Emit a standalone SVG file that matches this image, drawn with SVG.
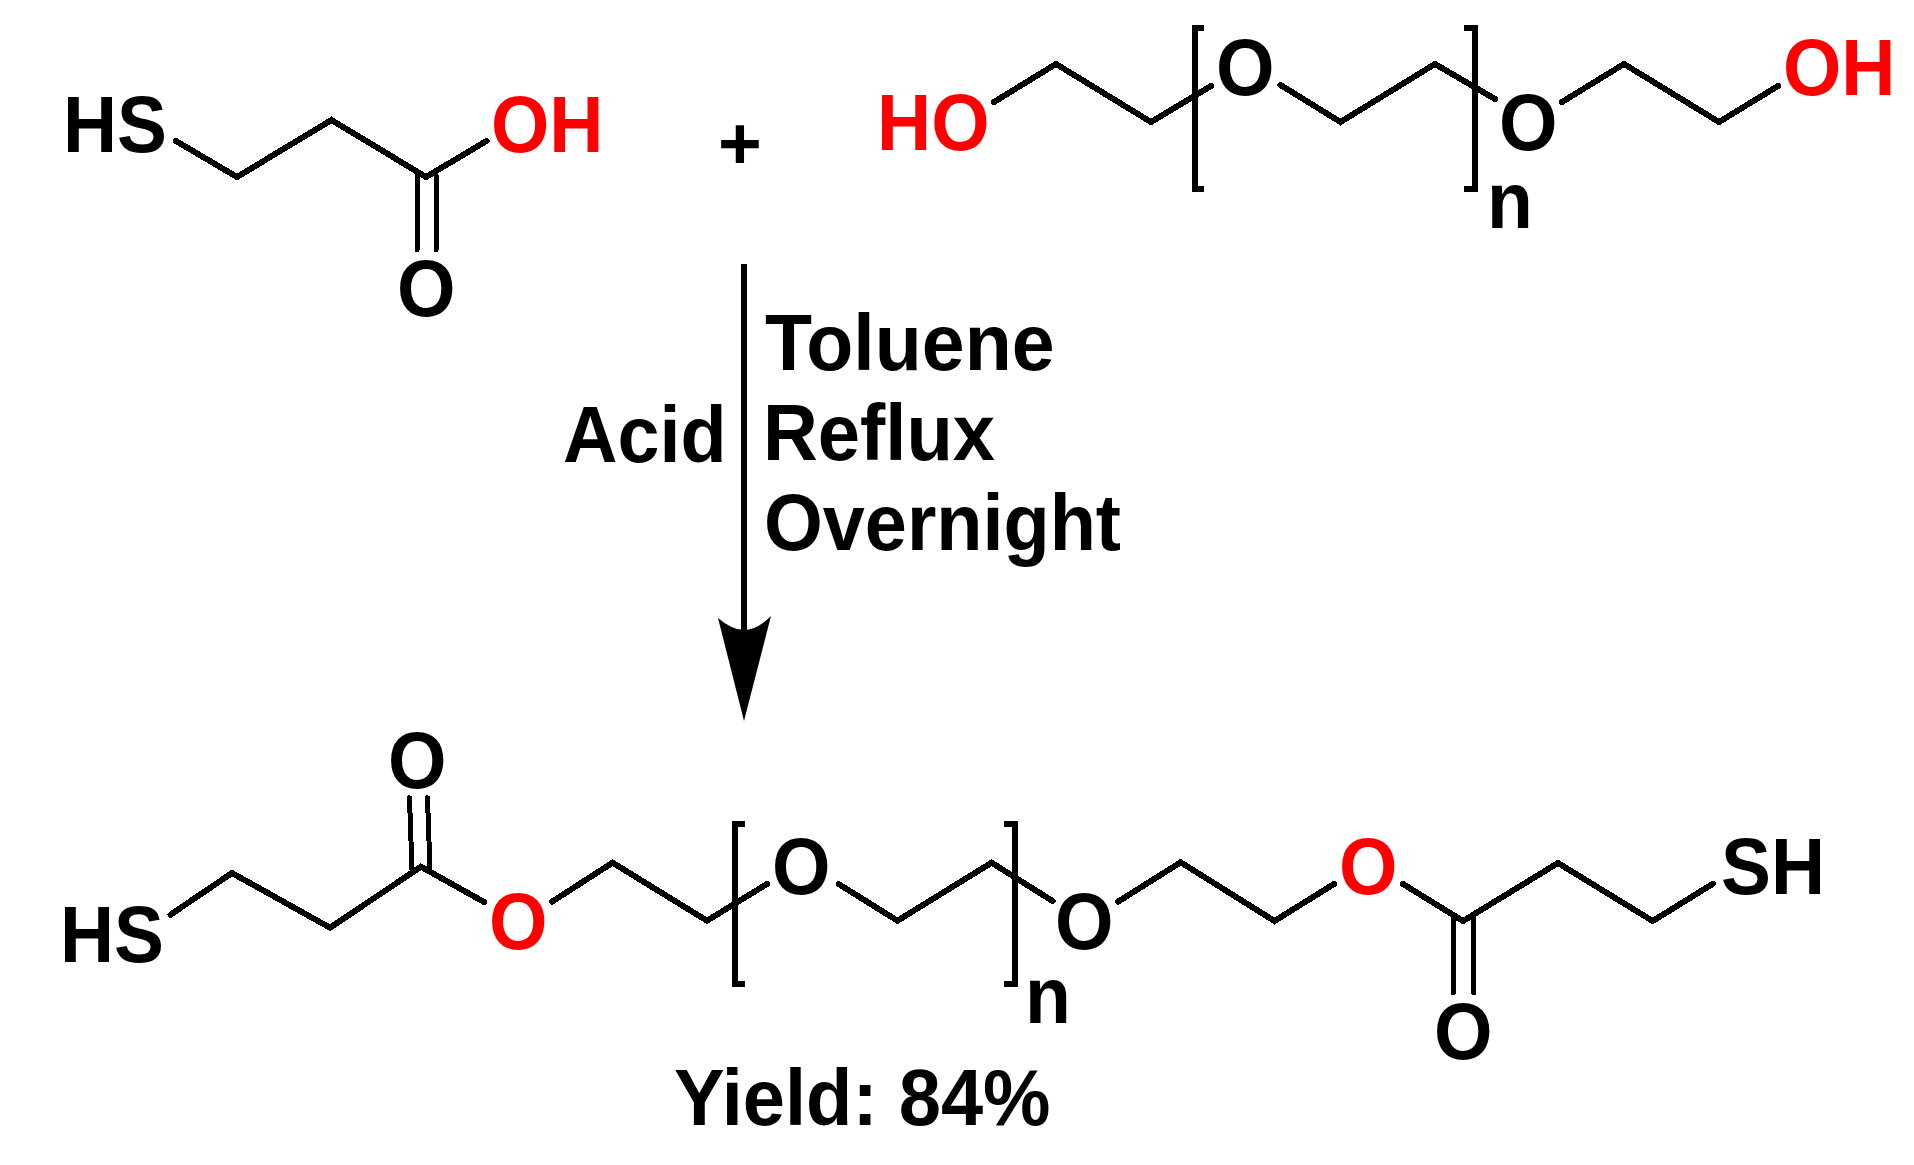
<svg xmlns="http://www.w3.org/2000/svg" width="1914" height="1165" viewBox="0 0 1914 1165">
<defs><style>
text{font-family:"Liberation Sans",Arial,sans-serif;font-weight:700;font-size:79px;fill:#000}
.r{fill:#f00}
.b{fill:none;stroke:#000;stroke-width:6;stroke-linejoin:miter;stroke-linecap:round;shape-rendering:crispEdges}
.d{stroke-width:5}
.k{fill:none;stroke:#000;stroke-width:6;stroke-linecap:butt;shape-rendering:crispEdges}
</style></defs>
<rect width="1914" height="1165" fill="#fff"/>
<g id="connectors">
<path class="b" d="M176 141L237 177L331.500 120L426 177L486.500 141"/>
<path class="b d" d="M417 175V250M436 175V250"/>
<path class="b" d="M994 102L1056 64L1151 122L1211 86"/>
<path class="b" d="M1280.500 85L1340.500 122L1435 64L1495 99"/>
<path class="b" d="M1562 102L1624 64L1719 122L1778 86"/>
<path class="k" d="M1204 27.500H1194.500V188.500H1204"/>
<path class="k" d="M1464 27.500H1475V188.500H1464"/>
<path class="k" d="M744 264V632"/>
<path d="M718 618Q732 630 744 630Q757 630 771 616L744 721Z" fill="#000"/>
<path class="b" d="M170.500 914.700L232 873L330 927.700L421 866.700L484 902"/>
<path class="b d" d="M409.500 797.700L412 870M427.500 797.700L430 870"/>
<path class="b" d="M552 901.700L612.600 862.700L707 920.700L767 884"/>
<path class="b" d="M838.600 884L897.500 920.700L991.600 862.700L1052.600 901"/>
<path class="k" d="M745 823.500H734.700V983.500H745"/>
<path class="k" d="M1003.500 823.500H1015.400V983.500H1003.500"/>
<path class="b" d="M1118 901.700L1180.700 862.300L1274.500 921L1334 884"/>
<path class="b" d="M1403 884L1463 921L1558 863L1652.700 921L1713 883.700"/>
<path class="b d" d="M1453.400 917V993M1473.800 917V993"/>
</g>
<g id="n-hs1"><text x="63" y="152" textLength="104" lengthAdjust="spacingAndGlyphs">HS</text></g>
<g id="n-oh1"><text class="r" x="491" y="152" textLength="112.500" lengthAdjust="spacingAndGlyphs">OH</text></g>
<g id="n-o1"><text x="397" y="316" textLength="58.500" lengthAdjust="spacingAndGlyphs">O</text></g>
<g id="n-plus"><text x="718" y="169" style="font-size:75px">+</text></g>
<g id="n-ho2"><text class="r" x="877" y="150" textLength="112.500" lengthAdjust="spacingAndGlyphs">HO</text></g>
<g id="n-o2"><text x="1216" y="95" textLength="58.500" lengthAdjust="spacingAndGlyphs">O</text></g>
<g id="n-o3"><text x="1499" y="150" textLength="58.500" lengthAdjust="spacingAndGlyphs">O</text></g>
<g id="n-oh2"><text class="r" x="1783" y="95" textLength="112.500" lengthAdjust="spacingAndGlyphs">OH</text></g>
<g id="n-n1"><text x="1487" y="228" textLength="45.800" lengthAdjust="spacingAndGlyphs">n</text></g>
<g id="n-toluene"><text x="765" y="370" textLength="289.500" lengthAdjust="spacingAndGlyphs">Toluene</text></g>
<g id="n-reflux"><text x="763" y="460" textLength="232" lengthAdjust="spacingAndGlyphs">Reflux</text></g>
<g id="n-overnight"><text x="764" y="550" textLength="357" lengthAdjust="spacingAndGlyphs">Overnight</text></g>
<g id="n-acid"><text x="563" y="462" textLength="163.500" lengthAdjust="spacingAndGlyphs">Acid</text></g>
<g id="n-hs3"><text x="60" y="962" textLength="104" lengthAdjust="spacingAndGlyphs">HS</text></g>
<g id="n-o4"><text x="388" y="788" textLength="58.500" lengthAdjust="spacingAndGlyphs">O</text></g>
<g id="n-o5"><text class="r" x="489" y="949" textLength="58.500" lengthAdjust="spacingAndGlyphs">O</text></g>
<g id="n-o6"><text x="772" y="894" textLength="58.500" lengthAdjust="spacingAndGlyphs">O</text></g>
<g id="n-n2"><text x="1025" y="1023" textLength="45.800" lengthAdjust="spacingAndGlyphs">n</text></g>
<g id="n-o7"><text x="1055" y="949" textLength="58.500" lengthAdjust="spacingAndGlyphs">O</text></g>
<g id="n-o8"><text class="r" x="1339" y="894" textLength="58.500" lengthAdjust="spacingAndGlyphs">O</text></g>
<g id="n-sh"><text x="1721" y="894" textLength="104" lengthAdjust="spacingAndGlyphs">SH</text></g>
<g id="n-o9"><text x="1434" y="1059" textLength="58.500" lengthAdjust="spacingAndGlyphs">O</text></g>
<g id="n-yield"><text x="674" y="1125" textLength="376.500" lengthAdjust="spacingAndGlyphs">Yield: 84%</text></g>
</svg>
